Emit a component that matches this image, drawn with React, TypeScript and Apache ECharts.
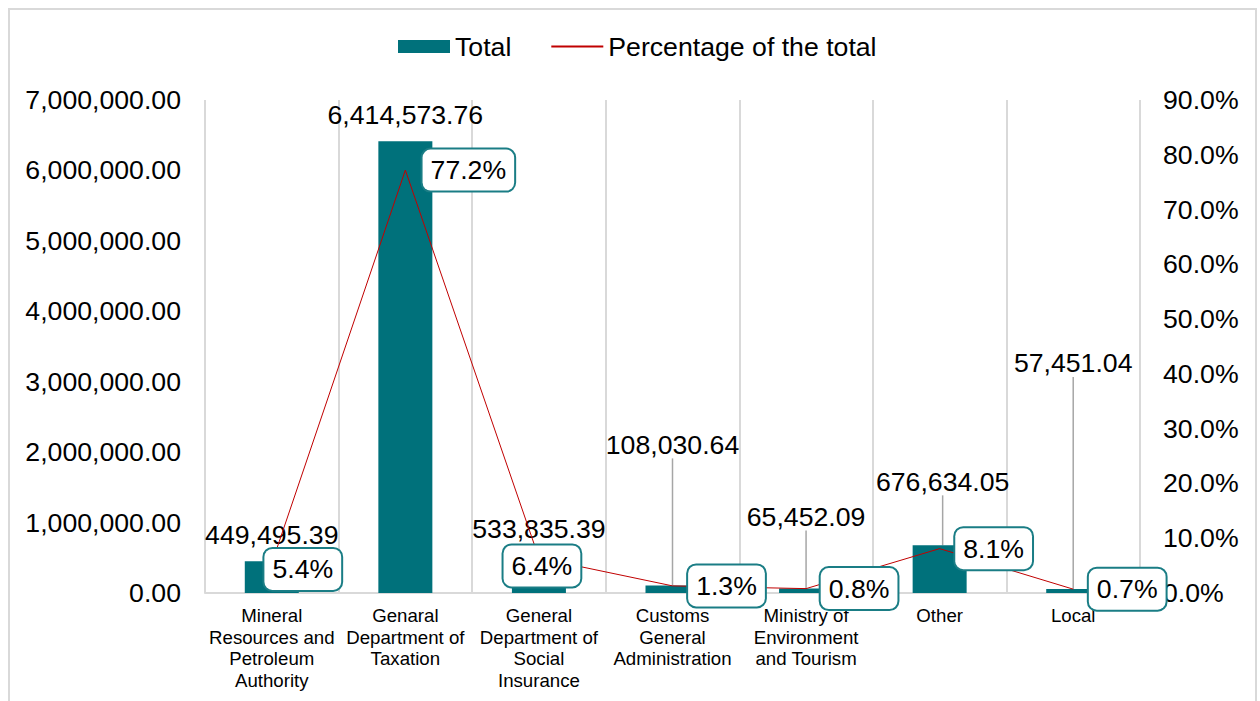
import React, { useEffect, useRef } from "react";
import * as echarts from "echarts";

const categories = [
  "Mineral\nResources and\nPetroleum\nAuthority",
  "Genaral\nDepartment of\nTaxation",
  "General\nDepartment of\nSocial\nInsurance",
  "Customs\nGeneral\nAdministration",
  "Ministry of\nEnvironment\nand Tourism",
  "Other",
  "Local",
];
const totals = [449495.39, 6414573.76, 533835.39, 108030.64, 65452.09, 676634.05, 57451.04];
const percentages = [5.4, 77.2, 6.4, 1.3, 0.8, 8.1, 0.7];

// label placement tweaks (pixels)
const totalLabelDx = [0, 0, 0, 0, 0, 3, 0];
const totalLabelDy = [0, 0, 0, -114, -45, -37, -199];
const pctLabelOffset: [number, number][] = [
  [31, 6],
  [63, 0],
  [3, 8],
  [54, 0],
  [53, 0],
  [54, 0],
  [54, 0],
];

const FONT = "Liberation Sans, Arial, sans-serif";
const BIG = 26.67;
const SMALL = 18.67;
const TEAL = "#00717b";
const RED = "#c00000";

export default function App() {
  const ref = useRef<HTMLDivElement>(null);
  useEffect(() => {
    document.body.style.margin = "0";
    if (!ref.current) return;
    const chart = echarts.init(ref.current, undefined, { renderer: "svg" });
    const fmtNum = (v: number) =>
      v.toLocaleString("en-US", { minimumFractionDigits: 2, maximumFractionDigits: 2 });
    chart.setOption({
      animation: false,
      textStyle: { fontFamily: FONT },
      graphic: [
        {
          type: "rect",
          shape: { x: 9, y: 9, width: 1247, height: 720 },
          style: { fill: "none", stroke: "#d9d9d9", lineWidth: 2 },
          silent: true,
          z: -10,
        },
      ],
      legend: {
        left: 393,
        top: 28,
        itemGap: 39,
        itemWidth: 52,
        itemHeight: 13,
        textStyle: { fontSize: BIG, color: "#000", fontFamily: FONT },
        data: [
          { name: "Total", icon: "rect" },
          { name: "Percentage of the total", itemStyle: { opacity: 0 } },
        ],
      },
      grid: { left: 205, right: 120, top: 100, bottom: 108, containLabel: false },
      xAxis: {
        type: "category",
        data: categories,
        axisLine: { show: true, lineStyle: { color: "#d9d9d9", width: 2 } },
        axisTick: { show: false },
        splitLine: { show: true, lineStyle: { color: "#d9d9d9", width: 2 } },
        axisLabel: {
          interval: 0,
          fontSize: SMALL,
          lineHeight: 21.5,
          color: "#000",
          margin: 12,
          fontFamily: FONT,
        },
      },
      yAxis: [
        {
          type: "value",
          min: 0,
          max: 7000000,
          interval: 1000000,
          axisLine: { show: false },
          axisTick: { show: false },
          splitLine: { show: false },
          axisLabel: {
            fontSize: BIG,
            color: "#000",
            margin: 24,
            fontFamily: FONT,
            formatter: (v: number) => fmtNum(v),
          },
        },
        {
          type: "value",
          min: 0,
          max: 90,
          interval: 10,
          position: "right",
          axisLine: { show: false },
          axisTick: { show: false },
          splitLine: { show: false },
          axisLabel: {
            fontSize: BIG,
            color: "#000",
            margin: 23,
            fontFamily: FONT,
            formatter: (v: number) => v.toFixed(1) + "%",
          },
        },
      ],
      series: [
        {
          name: "Total",
          type: "bar",
          data: totals.map((v, i) => ({
            value: v,
            labelLine: { show: totalLabelDy[i] !== 0 },
          })),
          barWidth: 54,
          itemStyle: { color: TEAL },
          label: {
            show: true,
            position: "top",
            distance: 13,
            fontSize: BIG,
            color: "#000",
            fontFamily: FONT,
            formatter: (p: any) => fmtNum(p.value),
          },
          labelLayout: (p: any) => ({
            dx: totalLabelDx[p.dataIndex],
            dy: totalLabelDy[p.dataIndex],
          }),
          labelLine: { show: true, lineStyle: { color: "#a6a6a6", width: 1.5 } },
          z: 2,
        },
        {
          name: "Percentage of the total",
          type: "line",
          yAxisIndex: 1,
          symbol: "circle",
          symbolSize: 0.01,
          showSymbol: true,
          lineStyle: { color: RED, width: 1 },
          itemStyle: { color: RED },
          data: percentages.map((v, i) => ({
            value: v,
            label: { offset: pctLabelOffset[i] },
          })),
          label: {
            show: true,
            position: "inside",
            fontSize: BIG,
            color: "#000",
            fontFamily: FONT,
            backgroundColor: "#fff",
            borderColor: "#1a7d85",
            borderWidth: 2,
            borderRadius: 8,
            padding: [7, 8, 7, 8],
            formatter: (p: any) => Number(p.value).toFixed(1) + "%",
          },
          z: 5,
        },
      ],
    });
    return () => chart.dispose();
  }, []);
  return <div ref={ref} style={{ width: 1260, height: 701 }} />;
}
